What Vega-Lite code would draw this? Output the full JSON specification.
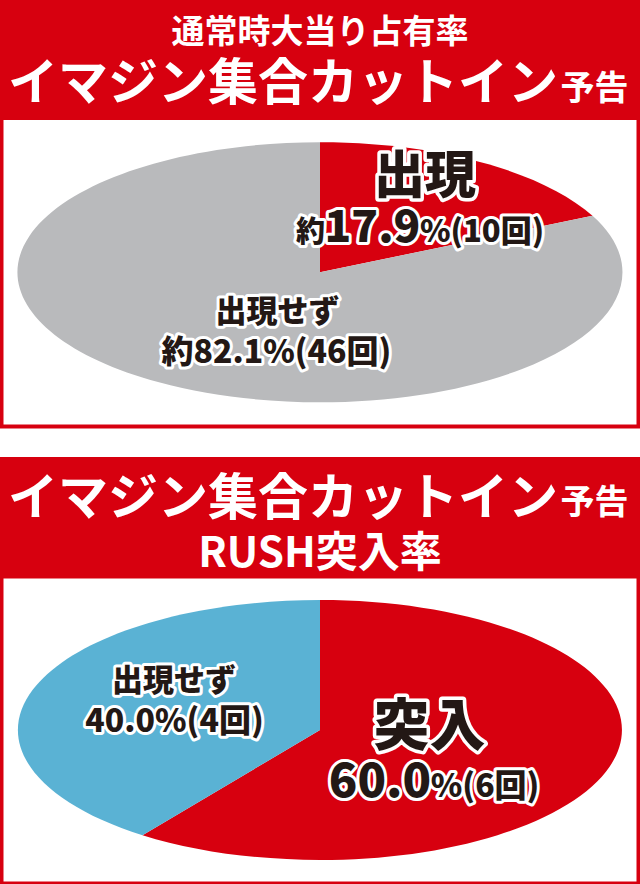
{
  "$schema": "https://vega.github.io/schema/vega-lite/v6.json",
  "background": "#d7000f",
  "padding": {"top": 17, "bottom": 4, "left": 0, "right": 0},
  "spacing": 17.5,
  "center": true,
  "resolve": {"scale": {"color": "independent", "shape": "independent", "theta": "independent"}},
  "config": {
    "view": {"stroke": null},
    "text": {"font": "Noto Sans CJK JP", "fontWeight": 900},
    "title": {
      "color": "white",
      "subtitleColor": "white",
      "font": "Noto Sans CJK JP",
      "subtitleFont": "Noto Sans CJK JP",
      "fontWeight": "bold",
      "subtitleFontWeight": "bold",
      "frame": "bounds"
    }
  },
  "datasets": {
    "normal": [
      {"slice": "出現", "count": 10, "name": "出現", "pre": "約", "num": "17.9", "post": "%(10回)", "detail": "約17.9%(10回)"},
      {"slice": "出現せず", "count": 46, "name": "出現せず", "pre": "約", "num": "82.1", "post": "%(46回)", "detail": "約82.1%(46回)"}
    ],
    "rush": [
      {"slice": "突入", "count": 6, "name": "突入", "pre": "", "num": "60.0", "post": "%(6回)", "detail": "60.0%(6回)"},
      {"slice": "出現せず", "count": 4, "name": "出現せず", "pre": "", "num": "40.0", "post": "%(4回)", "detail": "40.0%(4回)"}
    ]
  },
  "vconcat": [
    {
      "title": {"text": "通常時大当り占有率", "fontSize": 33, "anchor": "middle", "offset": 10},
      "spacing": 3.5,
      "center": true,
      "vconcat": [
        {
          "width": 633,
          "height": 304.5,
          "view": {"fill": "white", "stroke": null},
          "title": {
            "text": "イマジン集合カットイン",
            "subtitle": "\u200b\u3000\u3000\u3000\u3000\u3000\u3000\u3000\u3000\u3000\u3000\u3000\u3000\u3000\u3000\u3000\u3000\u2005予告",
            "fontSize": 50,
            "subtitleFontSize": 34,
            "subtitlePadding": -37.4,
            "anchor": "start",
            "dx": 4.5,
            "offset": 10
          },
          "data": {"name": "normal"},
          "encoding": {
            "theta": {"field": "count", "type": "quantitative", "stack": true},
            "order": {"field": "slice", "sort": "ascending"}
          },
          "layer": [
            {
              "mark": {"type": "point", "filled": true, "opacity": 1, "size": 4},
              "encoding": {
                "theta": null,
                "order": null,
                "shape": {
                  "field": "slice",
                  "type": "nominal",
                  "scale": {
                    "domain": ["出現", "出現せず"],
                    "range": [
                      "M0,0L0,-130A302.5,130 0 0,1 272.5,-56.4Z",
                      "M0,0L272.5,-56.4A302.5,130 0 1,1 0,-130Z"
                    ]
                  },
                  "legend": null
                },
                "color": {
                  "field": "slice",
                  "type": "nominal",
                  "scale": {"domain": ["出現", "出現せず"], "range": ["#d7000f", "#b9babc"]},
                  "legend": null
                }
              }
            },
            {
              "mark": {"type": "text", "radius": 80, "dx": 62.4, "dy": -26.5, "fontSize": 51, "fill": "white", "stroke": "white", "strokeWidth": 7, "strokeJoin": "round"},
              "encoding": {"text": {"condition": {"test": "datum.slice === '出現'", "field": "name"}, "value": ""}}
            },
            {
              "mark": {"type": "text", "radius": 80, "dx": 62.4, "dy": -26.5, "fontSize": 51, "fill": "#231815"},
              "encoding": {"text": {"condition": {"test": "datum.slice === '出現'", "field": "name"}, "value": ""}}
            },
            {
              "mark": {"type": "text", "radius": 80, "dx": -37.6, "dy": 37.5, "align": "right", "baseline": "alphabetic", "fontSize": 29, "fill": "white", "stroke": "white", "strokeWidth": 6, "strokeJoin": "round"},
              "encoding": {"text": {"condition": {"test": "datum.slice === '出現'", "field": "pre"}, "value": ""}}
            },
            {
              "mark": {"type": "text", "radius": 80, "dx": 9.9, "dy": 37.5, "align": "center", "baseline": "alphabetic", "fontSize": 44, "fill": "white", "stroke": "white", "strokeWidth": 6, "strokeJoin": "round"},
              "encoding": {"text": {"condition": {"test": "datum.slice === '出現'", "field": "num"}, "value": ""}}
            },
            {
              "mark": {"type": "text", "radius": 80, "dx": 57.4, "dy": 37.5, "align": "left", "baseline": "alphabetic", "fontSize": 31, "fill": "white", "stroke": "white", "strokeWidth": 6, "strokeJoin": "round"},
              "encoding": {"text": {"condition": {"test": "datum.slice === '出現'", "field": "post"}, "value": ""}}
            },
            {
              "mark": {"type": "text", "radius": 80, "dx": -37.6, "dy": 37.5, "align": "right", "baseline": "alphabetic", "fontSize": 29, "fill": "#231815"},
              "encoding": {"text": {"condition": {"test": "datum.slice === '出現'", "field": "pre"}, "value": ""}}
            },
            {
              "mark": {"type": "text", "radius": 80, "dx": 9.9, "dy": 37.5, "align": "center", "baseline": "alphabetic", "fontSize": 44, "fill": "#231815"},
              "encoding": {"text": {"condition": {"test": "datum.slice === '出現'", "field": "num"}, "value": ""}}
            },
            {
              "mark": {"type": "text", "radius": 80, "dx": 57.4, "dy": 37.5, "align": "left", "baseline": "alphabetic", "fontSize": 31, "fill": "#231815"},
              "encoding": {"text": {"condition": {"test": "datum.slice === '出現'", "field": "post"}, "value": ""}}
            },
            {
              "mark": {"type": "text", "radius": 80, "dx": 0, "dy": -26.5, "fontSize": 31, "fill": "white", "stroke": "white", "strokeWidth": 6, "strokeJoin": "round"},
              "encoding": {"text": {"condition": {"test": "datum.slice === '出現せず'", "field": "name"}, "value": ""}}
            },
            {
              "mark": {"type": "text", "radius": 80, "dx": -1, "dy": 13.5, "fontSize": 32, "fill": "white", "stroke": "white", "strokeWidth": 6, "strokeJoin": "round"},
              "encoding": {"text": {"condition": {"test": "datum.slice === '出現せず'", "field": "detail"}, "value": ""}}
            },
            {
              "mark": {"type": "text", "radius": 80, "dx": 0, "dy": -26.5, "fontSize": 31, "fill": "#231815"},
              "encoding": {"text": {"condition": {"test": "datum.slice === '出現せず'", "field": "name"}, "value": ""}}
            },
            {
              "mark": {"type": "text", "radius": 80, "dx": -1, "dy": 13.5, "fontSize": 32, "fill": "#231815"},
              "encoding": {"text": {"condition": {"test": "datum.slice === '出現せず'", "field": "detail"}, "value": ""}}
            }
          ]
        },
        {
          "width": 640,
          "height": 28.5,
          "view": {"fill": "white", "stroke": null},
          "data": {"name": "normal"},
          "mark": {"type": "point", "opacity": 0},
          "encoding": {}
        }
      ]
    },
    {
      "title": {
        "text": "イマジン集合カットイン",
        "subtitle": "\u200b\u3000\u3000\u3000\u3000\u3000\u3000\u3000\u3000\u3000\u3000\u3000\u3000\u3000\u3000\u3000\u3000\u2005予告",
        "fontSize": 50,
        "subtitleFontSize": 34,
        "subtitlePadding": -37.4,
        "anchor": "start",
        "dx": 4.5,
        "offset": 8.8
      },
      "vconcat": [
        {
          "width": 633,
          "height": 303,
          "view": {"fill": "white", "stroke": null},
          "title": {"text": "RUSH突入率", "fontSize": 42, "anchor": "middle", "offset": 2.2},
          "data": {"name": "rush"},
          "encoding": {
            "theta": {"field": "count", "type": "quantitative", "stack": true},
            "order": {"field": "slice", "sort": "descending"}
          },
          "layer": [
            {
              "mark": {"type": "point", "filled": true, "opacity": 1, "size": 4},
              "encoding": {
                "theta": null,
                "order": null,
                "shape": {
                  "field": "slice",
                  "type": "nominal",
                  "scale": {
                    "domain": ["突入", "出現せず"],
                    "range": [
                      "M0,0L0,-130A302,130 0 1,1 -177.5,105.2Z",
                      "M0,0L-177.5,105.2A302,130 0 0,1 0,-130Z"
                    ]
                  },
                  "legend": null
                },
                "color": {
                  "field": "slice",
                  "type": "nominal",
                  "scale": {"domain": ["突入", "出現せず"], "range": ["#d7000f", "#5ab2d4"]},
                  "legend": null
                }
              }
            },
            {
              "mark": {"type": "text", "radius": 80, "dx": 33.4, "dy": -27, "fontSize": 56, "fill": "white", "stroke": "white", "strokeWidth": 7, "strokeJoin": "round"},
              "encoding": {"text": {"condition": {"test": "datum.slice === '突入'", "field": "name"}, "value": ""}}
            },
            {
              "mark": {"type": "text", "radius": 80, "dx": 33.4, "dy": -27, "fontSize": 56, "fill": "#231815"},
              "encoding": {"text": {"condition": {"test": "datum.slice === '突入'", "field": "name"}, "value": ""}}
            },
            {
              "mark": {"type": "text", "radius": 80, "dx": -16.1, "dy": 41.8, "align": "center", "baseline": "alphabetic", "fontSize": 47, "fill": "white", "stroke": "white", "strokeWidth": 6, "strokeJoin": "round"},
              "encoding": {"text": {"condition": {"test": "datum.slice === '突入'", "field": "num"}, "value": ""}}
            },
            {
              "mark": {"type": "text", "radius": 80, "dx": 34.7, "dy": 41.8, "align": "left", "baseline": "alphabetic", "fontSize": 32, "fill": "white", "stroke": "white", "strokeWidth": 6, "strokeJoin": "round"},
              "encoding": {"text": {"condition": {"test": "datum.slice === '突入'", "field": "post"}, "value": ""}}
            },
            {
              "mark": {"type": "text", "radius": 80, "dx": -16.1, "dy": 41.8, "align": "center", "baseline": "alphabetic", "fontSize": 47, "fill": "#231815"},
              "encoding": {"text": {"condition": {"test": "datum.slice === '突入'", "field": "num"}, "value": ""}}
            },
            {
              "mark": {"type": "text", "radius": 80, "dx": 34.7, "dy": 41.8, "align": "left", "baseline": "alphabetic", "fontSize": 32, "fill": "#231815"},
              "encoding": {"text": {"condition": {"test": "datum.slice === '突入'", "field": "post"}, "value": ""}}
            },
            {
              "mark": {"type": "text", "radius": 80, "dx": -70, "dy": -23, "fontSize": 31, "fill": "white", "stroke": "white", "strokeWidth": 6, "strokeJoin": "round"},
              "encoding": {"text": {"condition": {"test": "datum.slice === '出現せず'", "field": "name"}, "value": ""}}
            },
            {
              "mark": {"type": "text", "radius": 80, "dx": -69.4, "dy": 17, "fontSize": 32, "fill": "white", "stroke": "white", "strokeWidth": 6, "strokeJoin": "round"},
              "encoding": {"text": {"condition": {"test": "datum.slice === '出現せず'", "field": "detail"}, "value": ""}}
            },
            {
              "mark": {"type": "text", "radius": 80, "dx": -70, "dy": -23, "fontSize": 31, "fill": "#231815"},
              "encoding": {"text": {"condition": {"test": "datum.slice === '出現せず'", "field": "name"}, "value": ""}}
            },
            {
              "mark": {"type": "text", "radius": 80, "dx": -69.4, "dy": 17, "fontSize": 32, "fill": "#231815"},
              "encoding": {"text": {"condition": {"test": "datum.slice === '出現せず'", "field": "detail"}, "value": ""}}
            }
          ]
        }
      ]
    }
  ]
}
